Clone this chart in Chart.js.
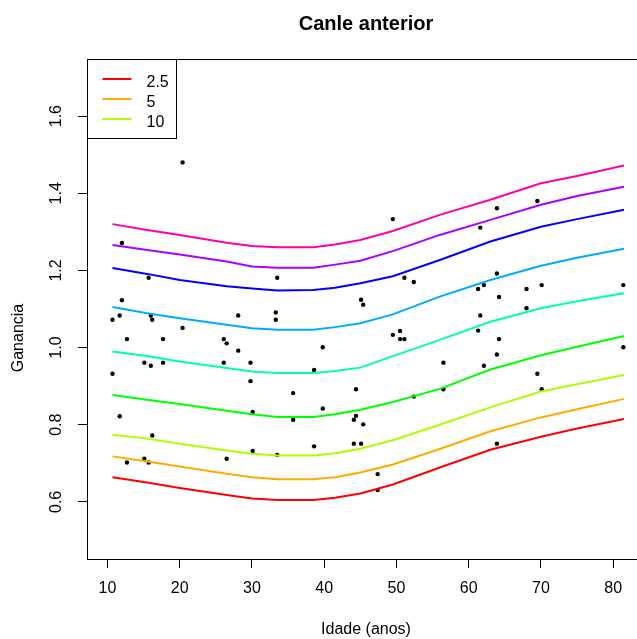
<!DOCTYPE html>
<html>
<head>
<meta charset="utf-8">
<title>Canle anterior</title>
<script src="https://cdn.jsdelivr.net/npm/chart.js@4.4.1/dist/chart.umd.min.js"></script>
<style>
html,body{margin:0;padding:0;overflow:hidden;background:#fff;}
canvas{display:block;}
</style>
</head>
<body>
<canvas id="grafico" width="732" height="639"></canvas>
<script>
//datos: idade de cada medida e ganancia
var ptAge=[20.4,12.0,15.7,33.5,12.0,10.7,11.7,16.0,16.2,20.4,
	28.1,33.3,33.3,12.7,17.7,26.1,26.5,28.1,15.1,16.0,
	17.7,26.1,29.8,10.7,29.8,30.1,11.7,16.2,30.1,33.5,
	15.1,15.7,12.7,26.5,49.5,51.1,52.4,45.1,45.4,49.5,
	50.5,50.5,51.1,39.8,56.5,38.6,35.7,44.4,56.5,52.4,
	39.8,44.4,35.7,44.1,45.4,38.6,44.1,45.1,47.4,47.4,
	69.5,63.9,61.6,63.9,62.1,61.3,68.0,70.1,81.4,64.2,
	68.0,61.6,61.3,64.2,63.9,62.1,69.5,70.1,81.4,63.9];
var ptGain=[1.480,1.271,1.181,1.181,1.123,1.072,1.083,1.083,1.072,1.051,
	1.083,1.091,1.072,1.022,1.022,1.022,1.011,0.992,0.961,0.953,
	0.961,0.961,0.961,0.932,0.913,0.833,0.822,0.772,0.732,0.722,
	0.712,0.702,0.702,0.712,1.333,1.181,1.170,1.124,1.111,1.033,
	1.043,1.022,1.022,1.001,0.961,0.942,0.882,0.892,0.892,0.873,
	0.842,0.823,0.813,0.813,0.801,0.744,0.751,0.751,0.672,0.631,
	1.380,1.361,1.311,1.192,1.162,1.152,1.152,1.162,1.162,1.131,
	1.102,1.083,1.044,1.022,0.982,0.953,0.932,0.892,1.001,0.751];

//curvas de centis
var ageFit=[10.7,15.5,20,26.5,30,33.5,38.5,41.5,45,49.5,56,63,70,75,81.5];
var c2_5 =[0.664,0.650,0.636,0.618,0.609,0.605,0.605,0.611,0.622,0.645,0.689,0.735,0.769,0.790,0.815];
var c5   =[0.718,0.705,0.692,0.673,0.664,0.659,0.659,0.664,0.676,0.697,0.737,0.783,0.819,0.840,0.867];
var c10  =[0.774,0.764,0.751,0.733,0.725,0.720,0.720,0.726,0.738,0.760,0.800,0.845,0.886,0.905,0.929];
var c25  =[0.877,0.865,0.854,0.836,0.827,0.820,0.820,0.827,0.839,0.859,0.893,0.943,0.980,1.002,1.030];
var c50  =[0.990,0.978,0.964,0.947,0.938,0.934,0.934,0.939,0.948,0.978,1.020,1.067,1.102,1.120,1.141];
var c75  =[1.105,1.089,1.076,1.059,1.050,1.046,1.046,1.053,1.063,1.086,1.132,1.175,1.212,1.233,1.256];
var c90  =[1.206,1.191,1.175,1.159,1.153,1.148,1.149,1.155,1.167,1.185,1.227,1.275,1.313,1.333,1.357];
var c95  =[1.266,1.253,1.241,1.223,1.210,1.207,1.207,1.215,1.225,1.250,1.292,1.331,1.370,1.393,1.417];
var c97_5=[1.320,1.305,1.292,1.272,1.263,1.260,1.260,1.267,1.279,1.302,1.344,1.383,1.426,1.445,1.472];
var centLabels=['2.5','5','10','25','50','75','90','95','97.5'];
var centColors=['#FF0000','#FFAA00','#AAFF00','#00FF00','#00FFAA','#00AAFF','#0000FF','#AA00FF','#FF00AA'];
var legendCount=3;//so os tres primeiros na lenda

var xTicks=[10,20,30,40,50,60,70,80];
var yTicks=[0.6,0.8,1.0,1.2,1.4,1.6];

var fontFam="'Liberation Sans', Arial, sans-serif";

function pares(xs,ys){
	var out=[];
	for(var i=0;i<xs.length;i++){
		out.push({x:xs[i],y:ys[i]});
	}
	return out;
}

var curves=[c2_5,c5,c10,c25,c50,c75,c90,c95,c97_5];
var datasets=[];
for(var i=0;i<curves.length;i++){
	datasets.push({
		type:'line',
		label:centLabels[i],
		data:pares(ageFit,curves[i]),
		borderColor:centColors[i],
		backgroundColor:centColors[i],
		borderWidth:2,
		pointRadius:0,
		tension:0,
		fill:false
	});
}
//os puntos van por debaixo das linhas
datasets.push({
	type:'scatter',
	label:'medidas',
	data:pares(ptAge,ptGain),
	backgroundColor:'#000',
	borderWidth:0,
	pointRadius:2.2
});

//titulo, caixa, etiquetas rodadas e lenda ao estilo R
var rDecor={
	id:'rDecor',
	afterDraw:function(chart){
		var c=chart.ctx, ca=chart.chartArea;
		var yS=chart.scales.y;
		var mid=(ca.left+ca.right)/2;
		c.save();
		c.strokeStyle='#000';
		c.lineWidth=1;
		c.strokeRect(Math.round(ca.left)+0.5,Math.round(ca.top)+0.5,Math.round(ca.right-ca.left),Math.round(ca.bottom-ca.top));

		c.fillStyle='#000';
		c.textAlign='center';
		c.textBaseline='alphabetic';
		c.font='bold 20px '+fontFam;
		c.fillText('Canle anterior',mid,30);
		c.font='16px '+fontFam;
		c.fillText('Idade (anos)',mid,634);

		c.textBaseline='middle';
		c.save();
		c.translate(19,338);
		c.rotate(-Math.PI/2);
		c.fillText('Ganancia',0,0);
		c.restore();

		for(var i=0;i<yTicks.length;i++){
			var py=yS.getPixelForValue(yTicks[i]);
			c.save();
			c.translate(57,py);
			c.rotate(-Math.PI/2);
			c.fillText(yTicks[i].toFixed(1),0,0);
			c.restore();
		}

		//lenda
		var lx=Math.round(ca.left)+0.5, ly=Math.round(ca.top)+0.5;
		c.strokeRect(lx,ly,89,79);
		c.textAlign='left';
		c.textBaseline='alphabetic';
		for(var k=0;k<legendCount;k++){
			var ds=chart.data.datasets[k];
			var yy=ly+19.5+k*20;
			c.strokeStyle=ds.borderColor;
			c.lineWidth=2;
			c.beginPath();
			c.moveTo(lx+15,yy);
			c.lineTo(lx+44,yy);
			c.stroke();
			c.fillStyle='#000';
			c.fillText(ds.label,lx+59,yy+7.5);
		}
		c.restore();
	}
};

var ctx=document.getElementById('grafico');
var myChart=new Chart(ctx,{
	type:'scatter',
	data:{datasets:datasets},
	options:{
		responsive:false,
		animation:false,
		events:[],
		layout:{padding:{top:59,right:87,left:0,bottom:0}},
		plugins:{
			legend:{display:false},
			title:{display:false},
			tooltip:{enabled:false}
		},
		scales:{
			x:{
				type:'linear',
				min:7.17,
				max:84.4,
				afterBuildTicks:function(s){
					s.ticks=xTicks.map(function(v){return {value:v};});
				},
				afterFit:function(s){ s.height=80; },
				grid:{drawOnChartArea:false,drawTicks:true,tickLength:9,color:'#000'},
				border:{display:false},
				ticks:{
					color:'#000',
					padding:11,
					maxRotation:0,
					font:{family:fontFam,size:16}
				}
			},
			y:{
				type:'linear',
				min:0.452,
				max:1.748,
				afterBuildTicks:function(s){
					s.ticks=yTicks.map(function(v){return {value:v};});
				},
				afterFit:function(s){ s.width=87; },
				grid:{drawOnChartArea:false,drawTicks:true,tickLength:9,color:'#000'},
				border:{display:false},
				ticks:{display:false}
			}
		}
	},
	plugins:[rDecor]
});
</script>
</body>
</html>
